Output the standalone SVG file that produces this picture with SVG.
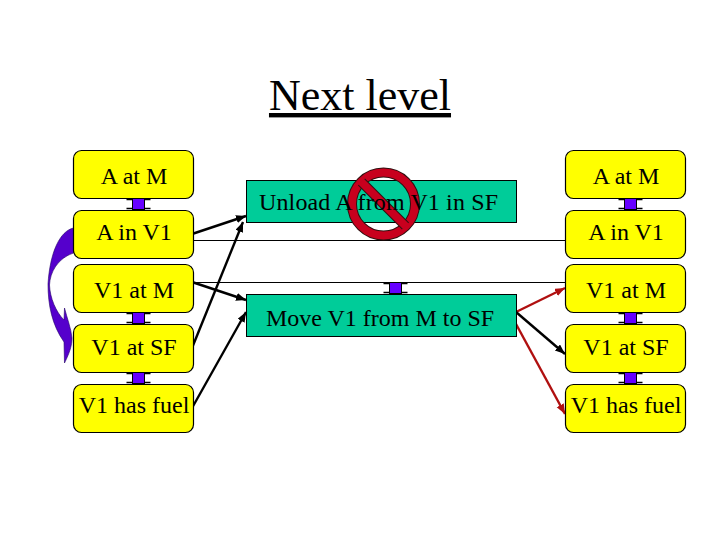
<svg xmlns="http://www.w3.org/2000/svg" width="720" height="540" viewBox="0 0 720 540">
<style>
text{font-family:"Liberation Serif","Times New Roman",serif;fill:#000;font-size:24px}
.m{text-anchor:middle}
.fact{fill:#ff0;stroke:#000;stroke-width:1.2}
.act{fill:#0c9;stroke:#000;stroke-width:1}
.thin{stroke:#000;stroke-width:1;fill:none}
.blk{stroke:#000;stroke-width:2.4;fill:none;marker-end:url(#ab)}
.red{stroke:#b01010;stroke-width:2.4;fill:none;marker-end:url(#ar)}
.sq{fill:#60f;stroke:#000;stroke-width:1}
.tick{stroke:#000;stroke-width:1.5;fill:none}
</style>
<defs>
<marker id="ab" markerUnits="userSpaceOnUse" markerWidth="12" markerHeight="10" refX="10" refY="4" orient="auto"><path d="M0 0L10 4L0 8Z" fill="#000"/></marker>
<marker id="ar" markerUnits="userSpaceOnUse" markerWidth="12" markerHeight="10" refX="10" refY="4" orient="auto"><path d="M0 0L10 4L0 8Z" fill="#b01010"/></marker>
<g id="mx"><path class="tick" d="M-12 -4.500H12M-12 4.500H12"/><rect class="sq" x="-6" y="-5.500" width="12" height="11"/></g>
</defs>
<text id="title" x="360" y="110" class="m" style="font-size:44px" text-decoration="underline">Next level</text>

<path id="curved-arrow" d="M73.500 228C60 231 50 252 48 284C48 305 52 325 64 342L64.500 363C70 352 72 345 72 338C71 328 67 318 64.500 308L64 320C56 312 50 298 49.500 285C50 272 58 258 73.500 253Z" fill="#50c" stroke="#206" stroke-width=".6"/>

<g id="connectors">
<path class="thin" d="M193 240.500H566M193 282.500H566"/>
<path class="blk" d="M192 234L246 216"/>
<path class="blk" d="M192 348L243 222"/>
<path class="blk" d="M192 282L246 300"/>
<path class="blk" d="M192 408L246 312"/>
<path class="red" d="M516 312L565 288"/>
<path class="blk" d="M516 312L565 354"/>
<path class="red" d="M516 324L565 414"/>
</g>

<g id="left-a-at-m"><rect class="fact" x="73.500" y="150.500" width="120" height="48" rx="8"/><text class="m" x="134" y="184">A at M</text></g>
<g id="left-a-in-v1"><rect class="fact" x="73.500" y="210.500" width="120" height="48" rx="8"/><text class="m" x="134" y="240">A in V1</text></g>
<g id="left-v1-at-m"><rect class="fact" x="73.500" y="264.500" width="120" height="48" rx="8"/><text class="m" x="134" y="298">V1 at M</text></g>
<g id="left-v1-at-sf"><rect class="fact" x="73.500" y="324.500" width="120" height="48" rx="8"/><text class="m" x="134" y="355">V1 at SF</text></g>
<g id="left-v1-has-fuel"><rect class="fact" x="73.500" y="384.500" width="120" height="48" rx="8"/><text class="m" x="134" y="413">V1 has fuel</text></g>

<g id="right-a-at-m"><rect class="fact" x="565.500" y="150.500" width="120" height="48" rx="8"/><text class="m" x="626" y="184">A at M</text></g>
<g id="right-a-in-v1"><rect class="fact" x="565.500" y="210.500" width="120" height="48" rx="8"/><text class="m" x="626" y="240">A in V1</text></g>
<g id="right-v1-at-m"><rect class="fact" x="565.500" y="264.500" width="120" height="48" rx="8"/><text class="m" x="626" y="298">V1 at M</text></g>
<g id="right-v1-at-sf"><rect class="fact" x="565.500" y="324.500" width="120" height="48" rx="8"/><text class="m" x="626" y="355">V1 at SF</text></g>
<g id="right-v1-has-fuel"><rect class="fact" x="565.500" y="384.500" width="120" height="48" rx="8"/><text class="m" x="626" y="413">V1 has fuel</text></g>

<g id="mutexes">
<use href="#mx" x="138.500" y="204"/>
<use href="#mx" x="138.500" y="318"/>
<use href="#mx" x="138.500" y="378"/>
<use href="#mx" x="395.500" y="288"/>
<use href="#mx" x="630.500" y="204"/>
<use href="#mx" x="630.500" y="318"/>
<use href="#mx" x="630.500" y="378"/>
</g>

<g id="action-unload"><rect class="act" x="246.500" y="180.500" width="270" height="42"/>
<g id="prohibition" fill="none">
<circle cx="383.500" cy="204" r="31.500" stroke="#301010" stroke-width="10"/>
<circle cx="383.500" cy="204" r="31.500" stroke="#c8001e" stroke-width="8"/>
<path d="M361.500 182L405.500 226" stroke="#301010" stroke-width="10"/>
<path d="M361 181.500L406 226.500" stroke="#c8001e" stroke-width="8"/>
</g>
<text class="m" x="378.500" y="210" textLength="239">Unload A from V1 in SF</text></g>
<g id="action-move"><rect class="act" x="246.500" y="294.500" width="270" height="42"/><text class="m" x="380" y="326">Move V1 from M to SF</text></g>
</svg>
